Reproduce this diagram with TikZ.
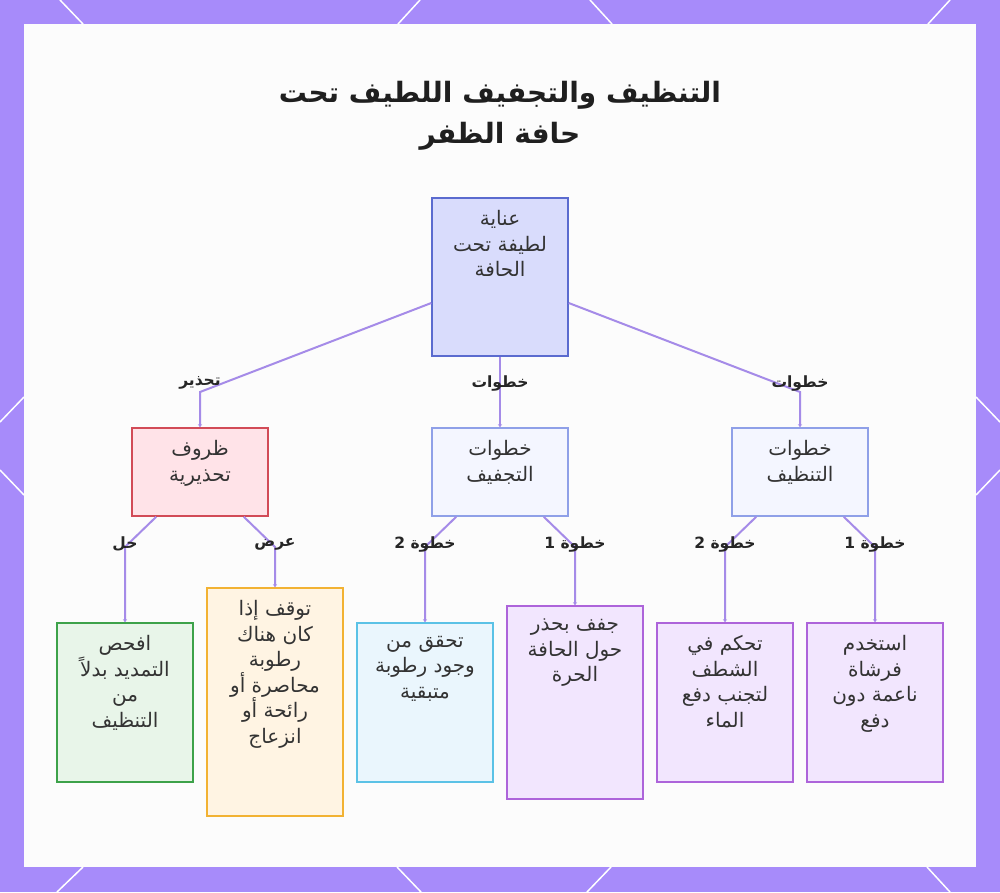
\documentclass[tikz,border=0pt]{standalone}
\usepackage{fontspec}
\newfontfamily\arabicfont[Script=Arabic]{DejaVu Sans}
\TeXXeTstate=1
\usetikzlibrary{arrows.meta,positioning}
\definecolor{framecol}{HTML}{A78BFA}
\definecolor{panelcol}{HTML}{FCFCFC}
\definecolor{conncol}{HTML}{A58BE8}
\definecolor{inkcol}{HTML}{333333}
\definecolor{HTMLroot}{HTML}{5B6BCF}
\definecolor{HTMLrootfill}{HTML}{D9DCFC}
\definecolor{HTMLstep}{HTML}{8FA0E8}
\definecolor{HTMLstepfill}{HTML}{F4F6FF}
\definecolor{HTMLwarn}{HTML}{D24B57}
\definecolor{HTMLwarnfill}{HTML}{FFE3E8}
\definecolor{HTMLfix}{HTML}{3DA24A}
\definecolor{HTMLfixfill}{HTML}{E8F5E9}
\definecolor{HTMLstop}{HTML}{F2B233}
\definecolor{HTMLstopfill}{HTML}{FFF4E3}
\definecolor{HTMLcheck}{HTML}{5BC2E6}
\definecolor{HTMLcheckfill}{HTML}{EAF6FD}
\definecolor{HTMLact}{HTML}{AD64DA}
\definecolor{HTMLactfill}{HTML}{F2E6FE}
\tikzset{
  box/.style={line width=1.5pt, minimum width=136pt, inner sep=0pt},
  rootbox/.style={box, draw=HTMLroot, fill=HTMLrootfill},
  stepbox/.style={box, draw=HTMLstep, fill=HTMLstepfill, minimum height=88pt},
  warnbox/.style={box, draw=HTMLwarn, fill=HTMLwarnfill, minimum height=88pt},
  fixbox/.style={box, draw=HTMLfix, fill=HTMLfixfill},
  stopbox/.style={box, draw=HTMLstop, fill=HTMLstopfill},
  checkbox/.style={box, draw=HTMLcheck, fill=HTMLcheckfill},
  actbox/.style={box, draw=HTMLact, fill=HTMLactfill},
  boxtext/.style={anchor=north, yshift=-10pt, align=center, text=inkcol,
    font=\arabicfont\fontsize{20}{25.5}\selectfont},
  steplabel/.style={inner sep=1pt, text=black!85,
    font=\arabicfont\bfseries\fontsize{15.5}{17}\selectfont},
  titletext/.style={align=center, text=black!88,
    font=\arabicfont\bfseries\fontsize{28}{41}\selectfont},
  conn/.style={draw=conncol, line width=2pt, -{Stealth[length=3pt,width=4pt]}}
}
\begin{document}
\begin{tikzpicture}[>=stealth,x=1pt,y=-1pt]
\useasboundingbox (0,0) rectangle (1000,892);
% frame
\fill[framecol] (0,0) rectangle (1000,892);
\fill[panelcol] (24,24) rectangle (976,867);
\foreach \xa/\ya/\xb/\yb in {60/0/83/24, 420/0/398/24, 590/0/612/24, 950/0/928/24,
    57/892/83/867, 421/892/397/867, 587/892/611/867, 950/892/927/867,
    0/422/24/397, 0/470/24/495, 1000/422/976/397, 1000/470/976/495}
  \draw[white,line width=1.5pt] (\xa,\ya) -- (\xb,\yb);

% title
\node[titletext] (title) at (500,116) {\beginR التنظيف والتجفيف اللطيف تحت\endR\\\beginR حافة الظفر\endR};

% nodes
\node[rootbox, minimum height=158pt, label={[boxtext]north:{\beginR عناية\endR\\\beginR لطيفة تحت\endR\\\beginR الحافة\endR}}] (care) at (500,277) {};
\node[warnbox, label={[boxtext]north:{\beginR ظروف\endR\\\beginR تحذيرية\endR}}] (warn) at (200,472) {};
\node[stepbox, label={[boxtext]north:{\beginR خطوات\endR\\\beginR التجفيف\endR}}] (dry) at (500,472) {};
\node[stepbox, label={[boxtext]north:{\beginR خطوات\endR\\\beginR التنظيف\endR}}] (clean) at (800,472) {};
\node[fixbox, minimum height=159pt, label={[boxtext]north:{\beginR افحص\endR\\\beginR التمديد بدلاً\endR\\\beginR من\endR\\\beginR التنظيف\endR}}] (fix) at (125,702.5) {};
\node[stopbox, minimum height=228pt, label={[boxtext]north:{\beginR توقف إذا\endR\\\beginR كان هناك\endR\\\beginR رطوبة\endR\\\beginR محاصرة أو\endR\\\beginR رائحة أو\endR\\\beginR انزعاج\endR}}] (stop) at (275,702) {};
\node[checkbox, minimum height=159pt, label={[boxtext]north:{\beginR تحقق من\endR\\\beginR وجود رطوبة\endR\\\beginR متبقية\endR}}] (check) at (425,702.5) {};
\node[actbox, minimum height=193pt, label={[boxtext]north:{\beginR جفف بحذر\endR\\\beginR حول الحافة\endR\\\beginR الحرة\endR}}] (edgedry) at (575,702.5) {};
\node[actbox, minimum height=159pt, label={[boxtext]north:{\beginR تحكم في\endR\\\beginR الشطف\endR\\\beginR لتجنب دفع\endR\\\beginR الماء\endR}}] (rinse) at (725,702.5) {};
\node[actbox, minimum height=159pt, label={[boxtext]north:{\beginR استخدم\endR\\\beginR فرشاة\endR\\\beginR ناعمة دون\endR\\\beginR دفع\endR}}] (brush) at (875,702.5) {};

% connectors
\draw[conn] ([yshift=-26pt]care.west) -- (warn.north |- 0,392) node[steplabel,yshift=9pt] {\beginR تحذير\endR} -- (warn.north);
\draw[conn] (care.south) -- (dry.north |- 0,392) node[steplabel,yshift=9pt] {\beginR خطوات\endR} -- (dry.north);
\draw[conn] ([yshift=-26pt]care.east) -- (clean.north |- 0,392) node[steplabel,yshift=9pt] {\beginR خطوات\endR} -- (clean.north);
\draw[conn] ([xshift=25pt]warn.south west) -- (fix.north |- 0,547) node[steplabel,yshift=3pt] {\beginR حل\endR} -- (fix.north);
\draw[conn] ([xshift=-25pt]warn.south east) -- (stop.north |- 0,547) node[steplabel,yshift=3pt] {\beginR عرض\endR} -- (stop.north);
\draw[conn] ([xshift=25pt]dry.south west) -- (check.north |- 0,547) node[steplabel,yshift=3pt] {\beginR خطوة 2\endR} -- (check.north);
\draw[conn] ([xshift=-25pt]dry.south east) -- (edgedry.north |- 0,547) node[steplabel,yshift=3pt] {\beginR خطوة 1\endR} -- (edgedry.north);
\draw[conn] ([xshift=25pt]clean.south west) -- (rinse.north |- 0,547) node[steplabel,yshift=3pt] {\beginR خطوة 2\endR} -- (rinse.north);
\draw[conn] ([xshift=-25pt]clean.south east) -- (brush.north |- 0,547) node[steplabel,yshift=3pt] {\beginR خطوة 1\endR} -- (brush.north);
\end{tikzpicture}
\end{document}
